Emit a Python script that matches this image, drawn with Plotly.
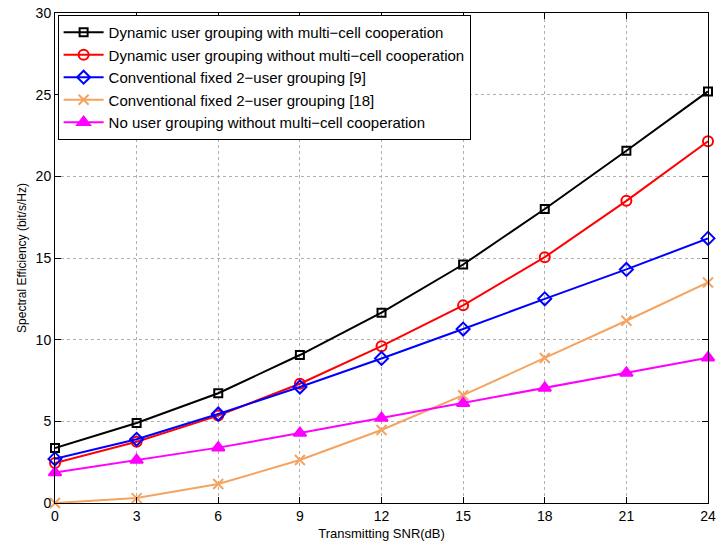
import plotly.graph_objects as go

snr = [0, 3, 6, 9, 12, 15, 18, 21, 24]
names = [
    "Dynamic user grouping with multi\u2212cell cooperation",
    "Dynamic user grouping without multi\u2212cell cooperation",
    "Conventional fixed 2\u2212user grouping [9]",
    "Conventional fixed 2\u2212user grouping [18]",
    "No user grouping without multi\u2212cell cooperation",
]
dyn_coop = [3.37, 4.9, 6.72, 9.06, 11.65, 14.6, 18.0, 21.57, 25.2]
dyn_nocoop = [2.45, 3.75, 5.35, 7.3, 9.6, 12.1, 15.05, 18.5, 22.15]
fixed9 = [2.7, 3.9, 5.45, 7.1, 8.85, 10.65, 12.5, 14.3, 16.2]
fixed18 = [0.0, 0.3, 1.16, 2.63, 4.47, 6.6, 8.88, 11.16, 13.5]
no_group = [1.86, 2.63, 3.39, 4.28, 5.2, 6.1, 7.04, 7.96, 8.9]

series = [dyn_coop, dyn_nocoop, fixed9, fixed18, no_group]
colors = ["#000000", "#ff0000", "#0000ff", "#f4a460", "#ff00ff"]
symbols = ["square-open", "circle-open", "diamond-open", "x-thin-open", "triangle-up"]
sizes = [8, 10, 10, 10, 11]

fig = go.Figure()
for name, ys, c, s, sz in zip(names, series, colors, symbols, sizes):
    fig.add_trace(go.Scatter(
        x=snr, y=ys, name=name, mode="lines+markers",
        line=dict(color=c, width=2),
        marker=dict(symbol=s, size=sz, color=c, line=dict(color=c, width=2)),
        cliponaxis=False,
    ))

axis_common = dict(
    showline=True, linecolor="black", linewidth=1, mirror="ticks",
    ticks="inside", ticklen=6, tickcolor="black",
    showgrid=True, gridcolor="#b0b0b0", griddash="dot", gridwidth=1,
    zeroline=False, automargin=False,
    tickfont=dict(family="Liberation Sans, Arial", size=14, color="black"),
)

fig.update_layout(
    width=722, height=541,
    margin=dict(l=55, r=14, t=13, b=38),
    paper_bgcolor="white", plot_bgcolor="white",
    font=dict(family="Liberation Sans, Arial", color="black"),
    xaxis=dict(range=[0, 24], tickvals=snr, **axis_common,
               title=dict(text="Transmitting SNR(dB)", font=dict(size=13), standoff=6)),
    yaxis=dict(range=[0, 30], tickvals=[0, 5, 10, 15, 20, 25, 30], **axis_common,
               title=dict(text="Spectral Efficiency (bit/s/Hz)", font=dict(size=12), standoff=6)),
    legend=dict(x=0.004, y=0.996, xanchor="left", yanchor="top",
                bgcolor="white", bordercolor="black", borderwidth=1,
                font=dict(size=15, family="Liberation Sans, Arial"),
                tracegroupgap=0, itemwidth=40),
    showlegend=True,
)

fig.write_html("out.html")
